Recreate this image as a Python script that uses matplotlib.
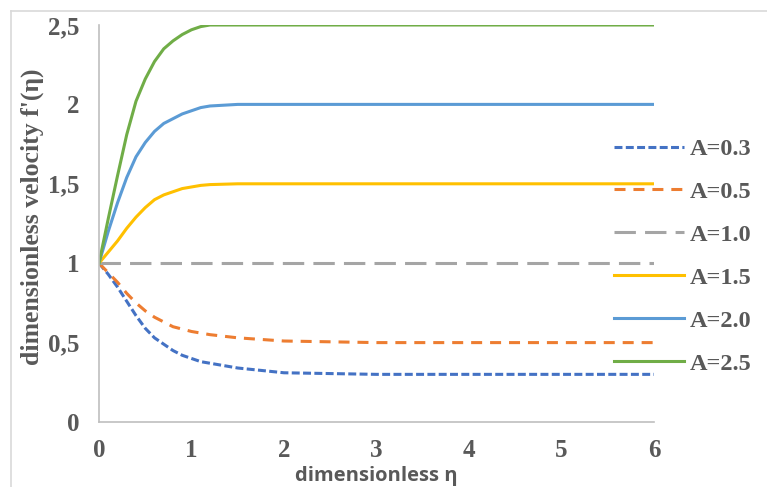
import numpy as np
import matplotlib
matplotlib.use("Agg")
import matplotlib.pyplot as plt
from matplotlib.lines import Line2D

# eta values (same for every curve)
eta = [0, 0.1, 0.2, 0.3, 0.4, 0.5, 0.6, 0.7, 0.8, 0.9, 1.0, 1.1, 1.2, 1.5, 2.0, 2.5, 3, 4, 5, 6]

a03 = [1, 0.93, 0.85, 0.76, 0.67, 0.59, 0.53, 0.49, 0.45, 0.42, 0.40, 0.38, 0.37, 0.34, 0.31, 0.305, 0.30, 0.30, 0.30, 0.30]
a05 = [1, 0.94, 0.88, 0.81, 0.75, 0.70, 0.66, 0.63, 0.60, 0.585, 0.57, 0.56, 0.55, 0.53, 0.51, 0.505, 0.50, 0.50, 0.50, 0.50]
a10 = [1] * 20
a15 = [1, 1.07, 1.14, 1.22, 1.29, 1.35, 1.40, 1.43, 1.45, 1.47, 1.48, 1.49, 1.495, 1.50, 1.50, 1.50, 1.50, 1.50, 1.50, 1.50]
a20 = [1, 1.20, 1.38, 1.54, 1.67, 1.76, 1.83, 1.88, 1.91, 1.94, 1.96, 1.98, 1.99, 2.0, 2.0, 2.0, 2.0, 2.0, 2.0, 2.0]
a25 = [1, 1.28, 1.55, 1.81, 2.02, 2.16, 2.27, 2.35, 2.40, 2.44, 2.47, 2.49, 2.50, 2.50, 2.50, 2.50, 2.50, 2.50, 2.50, 2.50]

labels = ["A=0.3", "A=0.5", "A=1.0", "A=1.5", "A=2.0", "A=2.5"]
series = [a03, a05, a10, a15, a20, a25]
colors = ["#4472C4", "#ED7D31", "#A5A5A5", "#FFC000", "#5B9BD5", "#70AD47"]
styles = [(0, (2.6, 1.1)), (0, (3.6, 2.6)), (0, (7, 3)), "-", "-", "-"]

fig = plt.figure(figsize=(7.67, 4.87), dpi=100)
ax = fig.add_axes([99/767, 1-422/487, (654-99)/767, (422-25)/487])

for y, lab, c, ls in zip(series, labels, colors, styles):
    ax.plot(eta, y, color=c, linestyle=ls, linewidth=2.2, label=lab)

ax.set_xlim(0, 6)
ax.set_ylim(0, 2.5)
ax.set_xticks(range(7))
ax.set_yticks([0, 0.5, 1, 1.5, 2, 2.5])
ax.set_yticklabels(["0", "0,5", "1", "1,5", "2", "2,5"])
for s in ["top", "right"]:
    ax.spines[s].set_visible(False)
for s in ["left", "bottom"]:
    ax.spines[s].set_color("#BFBFBF")
    ax.spines[s].set_linewidth(1.2)
ax.tick_params(length=0, colors="#595959", labelsize=18)
ax.tick_params(axis="x", pad=12)
ax.tick_params(axis="y", pad=14)
for t in ax.get_xticklabels() + ax.get_yticklabels():
    t.set_fontfamily("Liberation Serif")
    t.set_fontweight("bold")

fig.text(32/767, 1-217/487, "dimensionless velocity f'(η)", rotation=90, ha="center", va="center",
         fontsize=18.5, fontweight="bold", family="Liberation Serif", color="#595959")
fig.text(376/767, 1-481/487, "dimensionless η", ha="center", va="baseline",
         fontsize=14.5, fontweight="bold", family="Open Sans", color="#595959")

leg = ax.legend(loc="upper left", bbox_to_anchor=(614/767, 1-138/487), bbox_transform=fig.transFigure,
                frameon=False, borderaxespad=0, borderpad=0, handlelength=2.9, handletextpad=0.2,
                labelspacing=0.86, prop={"family": "Liberation Serif", "weight": "bold", "size": 17.5})
for t in leg.get_texts():
    t.set_color("#595959")

# chart area border
fig.add_artist(Line2D([11/767, 1], [1-11/487, 1-11/487], color="#D9D9D9", linewidth=1.2))
fig.add_artist(Line2D([11/767, 11/767], [0, 1-11/487], color="#D9D9D9", linewidth=1.2))

fig.savefig("out.png", dpi=100)
